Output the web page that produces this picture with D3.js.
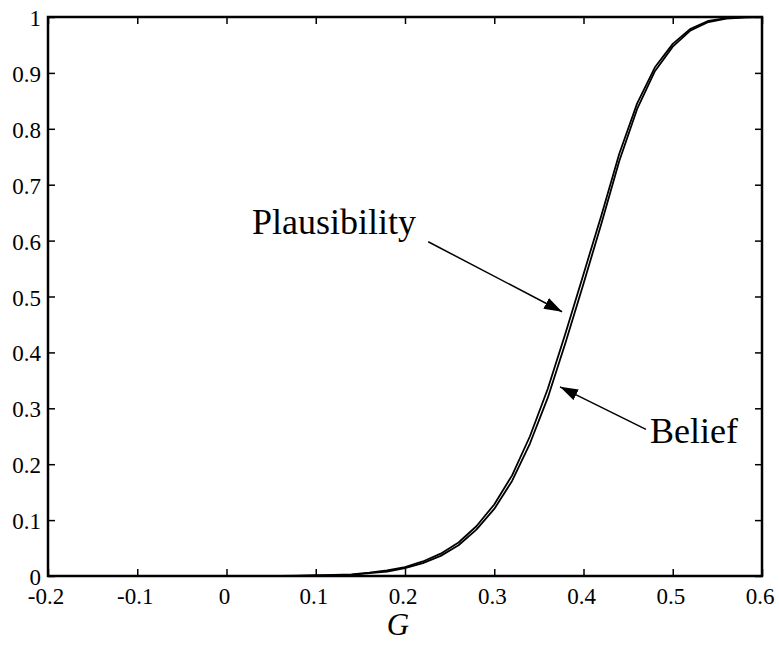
<!DOCTYPE html>
<html>
<head>
<meta charset="utf-8">
<script src="https://cdn.jsdelivr.net/npm/d3@7"></script>
<style>
	body { margin: 0; background: white; }
	text { font-family: "Liberation Serif", "Times New Roman", serif; fill: black; }
</style>
</head>
<body>
<div id="chart"></div>
<script>

// values, step 0.02 in G
var G = [-0.2, -0.18, -0.16, -0.14, -0.12, -0.1, -0.08, -0.06, -0.04, -0.02,
	0, 0.02, 0.04, 0.06, 0.08, 0.1, 0.12, 0.14, 0.16, 0.18,
	0.2, 0.22, 0.24, 0.26, 0.28, 0.3, 0.32, 0.34, 0.36, 0.38,
	0.4, 0.42, 0.44, 0.46, 0.48, 0.5, 0.52, 0.54, 0.56, 0.58, 0.6];

var plausibility = [0, 0, 0, 0, 0, 0, 0, 0, 0, 0,
	0, 0, 0, 0, 0.0005, 0.001, 0.002, 0.003, 0.006, 0.010,
	0.016, 0.026, 0.040, 0.060, 0.089, 0.128, 0.180, 0.250, 0.335, 0.435,
	0.540, 0.645, 0.755, 0.845, 0.910, 0.952, 0.979, 0.993, 0.998, 1.0, 1.0];

var belief = [0, 0, 0, 0, 0, 0, 0, 0, 0, 0,
	0, 0, 0, 0, 0.0003, 0.001, 0.001, 0.002, 0.005, 0.008,
	0.014, 0.023, 0.036, 0.055, 0.083, 0.120, 0.170, 0.237, 0.319, 0.418,
	0.523, 0.630, 0.742, 0.835, 0.903, 0.947, 0.976, 0.991, 0.997, 0.999, 1.0];

var xTicks = [-0.2, -0.1, 0, 0.1, 0.2, 0.3, 0.4, 0.5, 0.6];
var xTickLabels = ["-0.2", "-0.1", "0", "0.1", "0.2", "0.3", "0.4", "0.5", "0.6"];
var yTicks = [0, 0.1, 0.2, 0.3, 0.4, 0.5, 0.6, 0.7, 0.8, 0.9, 1];
var yTickLabels = ["0", "0.1", "0.2", "0.3", "0.4", "0.5", "0.6", "0.7", "0.8", "0.9", "1"];

// annotations: text position and arrow (from -> to), in data units
var notes = [
	{label: "Plausibility", tx: 0.0286, ty: 0.611, x1: 0.226, y1: 0.598, x2: 0.376, y2: 0.4727},
	{label: "Belief", tx: 0.4745, ty: 0.238, x1: 0.470, y1: 0.2623, x2: 0.3737, y2: 0.3384}
];

var width = 779, height = 650;
// plot box (window.top is read only, so no plain "top")
var boxL = 48, boxR = 762, boxT = 17, boxB = 576;

var svg = d3.select("#chart").append("svg")
		.attr("width", width)
		.attr("height", height);

var x = d3.scaleLinear().domain([-0.2, 0.6]).range([boxL, boxR]);
var y = d3.scaleLinear().domain([0, 1]).range([boxB, boxT]);

var tickLen = 7;

// axes, ticks pointing inwards on all four sides
svg.append("g")
	.attr("transform", "translate(0," + boxB + ")")
	.call(d3.axisBottom(x).tickValues(xTicks).tickSize(-tickLen).tickFormat(""))
	.call(function(g) { g.select(".domain").remove(); });

svg.append("g")
	.attr("transform", "translate(0," + boxT + ")")
	.call(d3.axisTop(x).tickValues(xTicks).tickSize(-tickLen).tickFormat(""))
	.call(function(g) { g.select(".domain").remove(); });

svg.append("g")
	.attr("transform", "translate(" + boxL + ",0)")
	.call(d3.axisLeft(y).tickValues(yTicks).tickSize(-tickLen).tickFormat(""))
	.call(function(g) { g.select(".domain").remove(); });

svg.append("g")
	.attr("transform", "translate(" + boxR + ",0)")
	.call(d3.axisRight(y).tickValues(yTicks).tickSize(-tickLen).tickFormat(""))
	.call(function(g) { g.select(".domain").remove(); });

svg.selectAll(".tick line")
	.style("stroke", "black")
	.style("stroke-width", 1.5);

// tick labels
svg.selectAll("text.xlab")
	.data(xTicks)
	.enter().append("text")
	.attr("class", "xlab")
	.attr("text-anchor", "middle")
	.style("font-size", "23px")
	.attr("x", function(d) { return x(d) - 2; })
	.attr("y", boxB + 28)
	.text(function(d, i) { return xTickLabels[i]; });

svg.selectAll("text.ylab")
	.data(yTicks)
	.enter().append("text")
	.attr("class", "ylab")
	.attr("text-anchor", "end")
	.style("font-size", "23px")
	.attr("x", boxL - 7)
	.attr("y", function(d) { return y(d) + 9; })
	.text(function(d, i) { return yTickLabels[i]; });

svg.append("text")
	.attr("text-anchor", "middle")
	.style("font-size", "31px")
	.style("font-style", "italic")
	.attr("x", 398)
	.attr("y", 635)
	.text("G");

// curves
var line = d3.line()
	.x(function(d, i) { return x(G[i]); })
	.y(function(d) { return y(d); });

[plausibility, belief].forEach(function(series) {
	svg.append("path")
		.datum(series)
		.attr("d", line)
		.style("fill", "none")
		.style("stroke", "black")
		.style("stroke-width", 1.8)
		.style("stroke-linejoin", "round");
});

// box
svg.append("rect")
	.attr("x", boxL)
	.attr("y", boxT)
	.attr("width", boxR - boxL)
	.attr("height", boxB - boxT)
	.style("fill", "none")
	.style("stroke", "black")
	.style("stroke-width", 2.5);

// annotations
svg.append("defs").append("marker")
	.attr("id", "head")
	.attr("viewBox", "0 0 18 12")
	.attr("refX", 18)
	.attr("refY", 6)
	.attr("markerWidth", 18)
	.attr("markerHeight", 12)
	.attr("markerUnits", "userSpaceOnUse")
	.attr("orient", "auto")
	.append("path")
	.attr("d", "M0,0 L18,6 L0,12 Z")
	.style("fill", "black");

notes.forEach(function(n) {
	svg.append("line")
		.attr("x1", x(n.x1)).attr("y1", y(n.y1))
		.attr("x2", x(n.x2)).attr("y2", y(n.y2))
		.style("stroke", "black")
		.style("stroke-width", 1.5)
		.attr("marker-end", "url(#head)");

	svg.append("text")
		.style("font-size", "36px")
		.attr("x", x(n.tx))
		.attr("y", y(n.ty))
		.text(n.label);
});

</script>
</body>
</html>
